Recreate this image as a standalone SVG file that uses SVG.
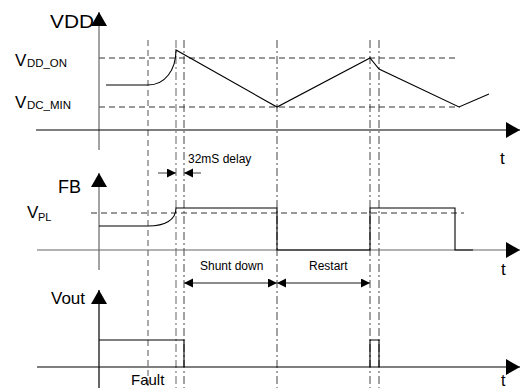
<svg xmlns="http://www.w3.org/2000/svg" width="520" height="388" viewBox="0 0 520 388">
<defs>
<marker id="axis" markerUnits="userSpaceOnUse" markerWidth="15" markerHeight="16" refX="14" refY="8" orient="auto">
<path d="M0,0 L14,8 L0,16 z" fill="#000"/>
</marker>
<marker id="sm" markerUnits="userSpaceOnUse" markerWidth="10" markerHeight="10" refX="9" refY="4.5" orient="auto-start-reverse">
<path d="M0,0 L9,4.5 L0,9 z" fill="#000"/>
</marker>
</defs>
<style>
text{font-family:"Liberation Sans",Arial,sans-serif;fill:#000}
.ax{stroke:#000;stroke-width:1.2;fill:none}
.axg{stroke:#666;stroke-width:1.2;fill:none}
.hd{stroke:#333;stroke-width:1;stroke-dasharray:6 4;fill:none}
.vd{stroke:#555;stroke-width:1;stroke-dasharray:6 4;fill:none}
.dd{stroke:#444;stroke-width:1;stroke-dasharray:8 3 2 3;fill:none}
.w{stroke:#000;stroke-width:1.1;fill:none}
.ar{stroke:#666;stroke-width:1.3;fill:none}
.big{font-size:18px}
.lbl{font-size:12px}
</style>
<g id="guides">
<line class="vd" x1="148" y1="40" x2="148" y2="388"/>
<line class="dd" x1="176" y1="40" x2="176" y2="388" style="stroke:#888;stroke-width:1.3"/>
<line class="dd" x1="184" y1="40" x2="184" y2="388"/>
<line class="dd" x1="277" y1="40" x2="277" y2="388"/>
<line class="dd" x1="370" y1="40" x2="370" y2="388"/>
<line class="dd" x1="379" y1="40" x2="379" y2="388"/>
<line class="hd" x1="99" y1="58" x2="458" y2="58"/>
<line class="hd" x1="99" y1="107" x2="460" y2="107"/>
<line class="hd" x1="91" y1="213" x2="464" y2="213"/>
</g>
<g id="axes">
<line class="axg" x1="99" y1="150" x2="99" y2="12" marker-end="url(#axis)"/>
<line class="ax" x1="36" y1="130" x2="520" y2="130" marker-end="url(#axis)"/>
<line class="axg" x1="99" y1="270" x2="99" y2="173" marker-end="url(#axis)"/>
<line class="axg" x1="37" y1="250" x2="520" y2="250" marker-end="url(#axis)"/>
<line class="ax" x1="99" y1="388" x2="99" y2="290" marker-end="url(#axis)"/>
<line class="ax" x1="37" y1="367" x2="520" y2="367" marker-end="url(#axis)"/>
</g>
<g id="vdd-wave">
<path class="w" d="M106,85 H148 C165,85 176,70 176,50 L277,107 L370,58 L379,69 L459,107 L489,94"/>
</g>
<g id="fb-wave">
<path class="w" d="M99,226 H148 C165,226 176,220 176,208 H277 V250 H370 V208 H455 V250 H473"/>
</g>
<g id="vout-wave">
<path class="w" d="M99,340 H184 V367"/>
<path class="w" d="M370,367 V340 H379 V367"/>
</g>
<g id="connectors">
<line class="ar" x1="158" y1="173" x2="176" y2="173" marker-end="url(#sm)"/>
<line class="ar" x1="201" y1="173" x2="184" y2="173" marker-end="url(#sm)"/>
<line class="ar" x1="184" y1="283" x2="277" y2="283" marker-start="url(#sm)" marker-end="url(#sm)"/>
<line class="ar" x1="277" y1="283" x2="370" y2="283" marker-start="url(#sm)" marker-end="url(#sm)"/>
</g>
<g id="labels">
<text class="big" x="50" y="28" textLength="44" lengthAdjust="spacingAndGlyphs">VDD</text>
<text x="15" y="66" font-size="17">V</text>
<text x="27" y="67" font-size="11" textLength="40" lengthAdjust="spacingAndGlyphs">DD_ON</text>
<text x="15" y="108" font-size="17">V</text>
<text x="27" y="109" font-size="11" textLength="44" lengthAdjust="spacingAndGlyphs">DC_MIN</text>
<text x="500" y="164" font-size="17">t</text>
<text class="lbl" x="188" y="163">32mS delay</text>
<text class="big" x="58" y="193">FB</text>
<text x="27" y="218" font-size="17">V</text>
<text x="38" y="221" font-size="11">PL</text>
<text x="501" y="275" font-size="17">t</text>
<text class="lbl" x="200" y="270">Shunt down</text>
<text class="lbl" x="309" y="270">Restart</text>
<text x="51" y="304" font-size="17">Vout</text>
<text x="501" y="386" font-size="16">t</text>
<text x="131" y="385" font-size="15">Fault</text>
</g>
</svg>
